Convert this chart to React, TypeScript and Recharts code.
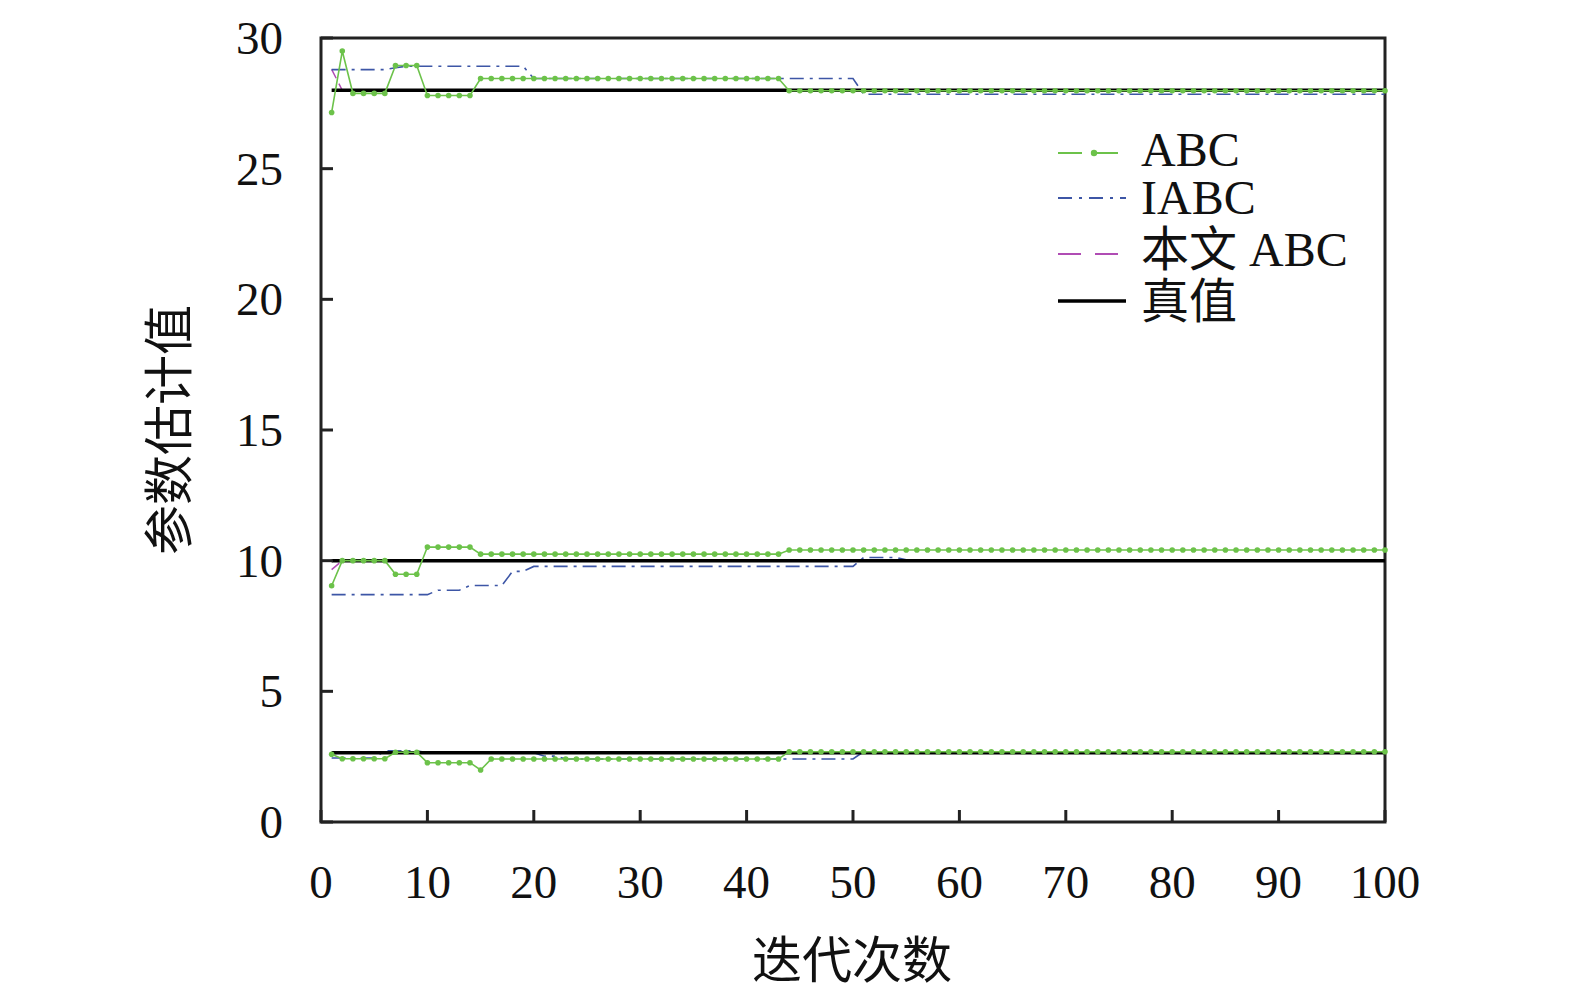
import React from "react";
import { LineChart, Line, XAxis, YAxis, ReferenceArea } from "recharts";

// run-length values: [value, number of iterations]
const abcTopRuns = [[27.15, 1], [29.5, 1], [27.88, 4], [28.95, 3], [27.8, 5], [28.45, 29], [27.98, 57]];
const abcMidRuns = [[9.04, 1], [10.0, 5], [9.48, 3], [10.52, 5], [10.25, 29], [10.41, 57]];
const abcLowRuns = [[2.59, 1], [2.42, 5], [2.67, 3], [2.27, 5], [1.99, 1], [2.41, 28], [2.69, 57]];

const iabcTopRuns = [[28.79, 6], [28.86, 1], [28.92, 12], [28.45, 31], [27.85, 50]];
const iabcMidRuns = [[8.7, 10], [8.87, 3], [9.05, 4], [9.59, 2], [9.78, 31], [10.12, 4], [10.03, 46]];
const iabcLowRuns = [[2.45, 5], [2.72, 4], [2.65, 11], [2.52, 2], [2.41, 28], [2.69, 50]];

const oursTopRuns = [[28.8, 1], [28.0, 99]];
const oursMidRuns = [[9.66, 1], [10.0, 99]];
const oursLowRuns = [[2.6, 1], [2.65, 99]];

const trueValues = [28, 10, 2.65];

const xTicks = [0, 10, 20, 30, 40, 50, 60, 70, 80, 90, 100];
const yTicks = [0, 5, 10, 15, 20, 25, 30];

const expand = (runs: number[][]) => {
  const out: number[] = [];
  runs.forEach(([v, n]) => {
    for (let i = 0; i < n; i++) out.push(v);
  });
  return out;
};

const series: Record<string, number[]> = {
  abcTop: expand(abcTopRuns),
  abcMid: expand(abcMidRuns),
  abcLow: expand(abcLowRuns),
  iabcTop: expand(iabcTopRuns),
  iabcMid: expand(iabcMidRuns),
  iabcLow: expand(iabcLowRuns),
  oursTop: expand(oursTopRuns),
  oursMid: expand(oursMidRuns),
  oursLow: expand(oursLowRuns),
};

const data = series.abcTop.map((_, i) => {
  const row: Record<string, number> = { iter: i + 1 };
  Object.keys(series).forEach((k) => (row[k] = series[k][i]));
  row.trueTop = trueValues[0];
  row.trueMid = trueValues[1];
  row.trueLow = trueValues[2];
  return row;
});

const W = 1575;
const H = 992;
const PLOT_LEFT = 321;
const PLOT_TOP = 38;
const PLOT_RIGHT = 1385;
const PLOT_BOTTOM = 822;
const AXIS_COLOR = "#222";
const SERIF = "'Liberation Serif', 'Times New Roman', 'Noto Sans CJK SC', serif";

const GREEN = "#6cc24a";
const BLUE = "#3d56a6";
const MAGENTA = "#b04cb4";

const XTick = ({ x, payload }: any) => (
  <g>
    <line x1={x} x2={x} y1={PLOT_BOTTOM} y2={PLOT_BOTTOM - 12} stroke={AXIS_COLOR} strokeWidth={3} />
    <text x={x} y={PLOT_BOTTOM + 76} textAnchor="middle" fontSize={47} fontFamily={SERIF} fill="#111">
      {payload.value}
    </text>
  </g>
);

const YTick = ({ y, payload }: any) => (
  <g>
    <line x1={PLOT_LEFT} x2={PLOT_LEFT + 12} y1={y} y2={y} stroke={AXIS_COLOR} strokeWidth={3} />
    <text x={PLOT_LEFT - 38} y={y + 16} textAnchor="end" fontSize={47} fontFamily={SERIF} fill="#111">
      {payload.value}
    </text>
  </g>
);

const XTitle = () => (
  <text x={852} y={978} textAnchor="middle" fontSize={50} fontFamily={SERIF} fill="#111">
    迭代次数
  </text>
);

const YTitle = () => (
  <text
    x={170}
    y={430}
    textAnchor="middle"
    dominantBaseline="central"
    fontSize={50}
    fontFamily={SERIF}
    fill="#111"
    transform="rotate(-90, 170, 430)"
  >
    参数估计值
  </text>
);

const Legend = () => (
  <svg
    width={W}
    height={H}
    style={{ position: "absolute", left: 0, top: 0, pointerEvents: "none" }}
  >
    <g fontFamily={SERIF} fontSize={48} fill="#111">
      <line x1={1058} x2={1082} y1={153} y2={153} stroke={GREEN} strokeWidth={2} />
      <line x1={1094} x2={1118} y1={153} y2={153} stroke={GREEN} strokeWidth={2} />
      <circle cx={1094} cy={153} r={3.2} fill={GREEN} />
      <text x={1141} y={166}>ABC</text>

      <line x1={1058} x2={1126} y1={198} y2={198} stroke={BLUE} strokeWidth={2} strokeDasharray="14 7 3 7" />
      <text x={1141} y={214}>IABC</text>

      <line x1={1058} x2={1118} y1={254} y2={254} stroke={MAGENTA} strokeWidth={2} strokeDasharray="23 14" />
      <text x={1141} y={266}>本文 ABC</text>

      <line x1={1058} x2={1126} y1={301} y2={301} stroke="#000" strokeWidth={3.5} />
      <text x={1141} y={318}>真值</text>
    </g>
  </svg>
);

export default function App() {
  return (
    <div style={{ position: "relative", width: W, height: H }}>
      <style>{"body{margin:0;overflow:hidden}"}</style>
      <LineChart
        width={W}
        height={H}
        data={data}
        margin={{ top: PLOT_TOP, right: W - PLOT_RIGHT, bottom: H - PLOT_BOTTOM - 100, left: PLOT_LEFT - 100 }}
      >
        <XAxis
          dataKey="iter"
          type="number"
          domain={[0, 100]}
          ticks={xTicks}
          height={100}
          axisLine={false}
          tickLine={false}
          tickSize={0}
          tick={<XTick />}
          label={<XTitle />}
          interval={0}
        />
        <YAxis
          type="number"
          domain={[0, 30]}
          ticks={yTicks}
          width={100}
          axisLine={false}
          tickLine={false}
          tickSize={0}
          tick={<YTick />}
          label={<YTitle />}
          interval={0}
        />
        {["oursTop", "oursMid", "oursLow"].map((k) => (
          <Line key={k} dataKey={k} type="linear" stroke={MAGENTA} strokeWidth={1.5} strokeDasharray="10 6" dot={false} isAnimationActive={false} />
        ))}
        {["iabcTop", "iabcMid", "iabcLow"].map((k) => (
          <Line key={k} dataKey={k} type="linear" stroke={BLUE} strokeWidth={1.6} strokeDasharray="14 6 3 6" dot={false} isAnimationActive={false} />
        ))}
        {["trueTop", "trueMid", "trueLow"].map((k) => (
          <Line key={k} dataKey={k} type="linear" stroke="#000" strokeWidth={3.5} dot={false} isAnimationActive={false} />
        ))}
        {["abcTop", "abcMid", "abcLow"].map((k) => (
          <Line
            key={k}
            dataKey={k}
            type="linear"
            stroke={GREEN}
            strokeWidth={1.6}
            dot={{ r: 2.8, fill: GREEN, stroke: "none" }}
            isAnimationActive={false}
          />
        ))}
        <ReferenceArea x1={0} x2={100} y1={0} y2={30} fill="none" fillOpacity={0} stroke={AXIS_COLOR} strokeWidth={3} ifOverflow="visible" />
      </LineChart>
      <Legend />
    </div>
  );
}
